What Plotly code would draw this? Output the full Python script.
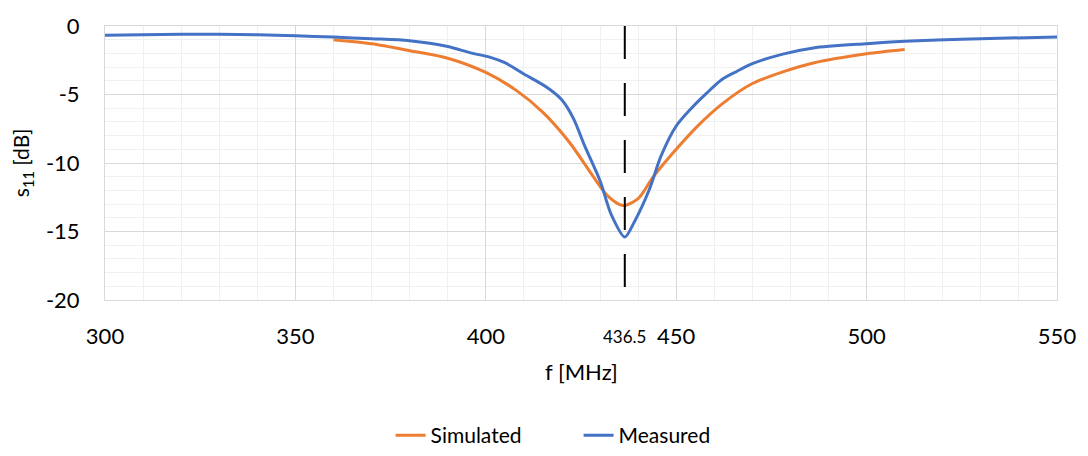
import plotly.graph_objects as go

# Measured S11
meas_f = [300, 310, 320, 330, 340, 350, 360, 370, 380, 390, 396, 401, 405, 410, 416, 420, 423, 426,
          430, 433, 436.5, 439, 443, 446, 450, 454, 458, 462, 466, 470, 478, 486, 500, 510, 525, 550]
meas_s11 = [-0.68, -0.63, -0.6, -0.6, -0.64, -0.72, -0.81, -0.93, -1.08, -1.5, -1.96, -2.27, -2.68,
            -3.5, -4.47, -5.4, -6.74, -8.77, -11.3, -13.8, -15.4, -14.3, -11.9, -9.5, -7.3, -6.0,
            -4.9, -3.9, -3.3, -2.75, -2.05, -1.6, -1.29, -1.12, -0.96, -0.8]

# Simulated S11
sim_f = [360, 370, 380, 390, 400, 408, 415, 422, 428, 432, 436, 440, 444, 450, 456, 462, 470, 478,
         486, 500, 510]
sim_s11 = [-1.0, -1.3, -1.8, -2.35, -3.39, -4.7, -6.3, -8.5, -10.9, -12.4, -13.1, -12.6, -11.0,
           -9.0, -7.2, -5.7, -4.2, -3.35, -2.7, -2.03, -1.72]

x_ticks = [300, 350, 400, 450, 500, 550]
y_ticks = [0, -5, -10, -15, -20]
y_tick_labels = ["0", "-5", "-10", "-15", "-20"]
marker_f = 436.5
marker_label = "436.5"

FONT = "Lato, 'Open Sans', sans-serif"

fig = go.Figure()
fig.add_trace(go.Scatter(x=sim_f, y=sim_s11, mode="lines", name="Simulated",
                         line=dict(color="#ED7D31", width=3, shape="spline", smoothing=0.8)))
fig.add_trace(go.Scatter(x=meas_f, y=meas_s11, mode="lines", name="Measured",
                         line=dict(color="#4472C4", width=3, shape="spline", smoothing=0.8)))

fig.add_shape(type="line", x0=marker_f, x1=marker_f, y0=0, y1=-20, xref="x", yref="y",
              line=dict(color="black", width=2, dash="33px,24px"))

fig.add_annotation(x=marker_f, y=0, xref="x", yref="paper", yanchor="top", xanchor="center",
                   yshift=-24, text=marker_label, showarrow=False,
                   font=dict(size=17, color="#000", family=FONT))

# axis titles
fig.add_annotation(x=0.5, y=-73 / 279, xref="paper", yref="paper", xanchor="center",
                   yanchor="middle", text="f [MHz]", showarrow=False,
                   font=dict(size=22, color="#000", family=FONT))
fig.add_annotation(x=-83 / 954, y=0.5, xref="paper", yref="paper", xanchor="center",
                   yanchor="middle", text="s<sub>11</sub> [dB]", showarrow=False, textangle=-90,
                   font=dict(size=21, color="#000", family=FONT))

fig.update_layout(
    width=1088, height=456,
    margin=dict(l=105, r=29, t=21, b=156),
    paper_bgcolor="white", plot_bgcolor="white",
    font=dict(family=FONT, color="#000"),
    showlegend=True,
    legend=dict(orientation="h", x=0.300, xanchor="left", y=0, yanchor="bottom",
                yref="container", font=dict(size=21), traceorder="normal",
                entrywidth=143, entrywidthmode="pixels"),
    xaxis=dict(range=[300, 550], tickvals=x_ticks, showgrid=True, gridcolor="#D9D9D9",
               gridwidth=1.3, tickfont=dict(size=22), zeroline=False,
               showline=True, linecolor="#D9D9D9", mirror=True, ticks="",
               ticklabelstandoff=17,
               minor=dict(dtick=10, showgrid=True, gridcolor="#F0F0F0", gridwidth=1.3)),
    yaxis=dict(range=[-20, 0], tickvals=y_ticks, ticktext=y_tick_labels, showgrid=True,
               gridcolor="#D9D9D9", gridwidth=1.3, tickfont=dict(size=22), zeroline=False,
               showline=True, linecolor="#D9D9D9", mirror=True, ticks="",
               ticklabelstandoff=20,
               minor=dict(dtick=1, showgrid=True, gridcolor="#F0F0F0", gridwidth=1.3)),
)

# remove the default 8px page margin so the figure sits at the window origin
fig.write_html("out.html", config={"displayModeBar": False},
               post_script="document.body.style.margin='0';")
